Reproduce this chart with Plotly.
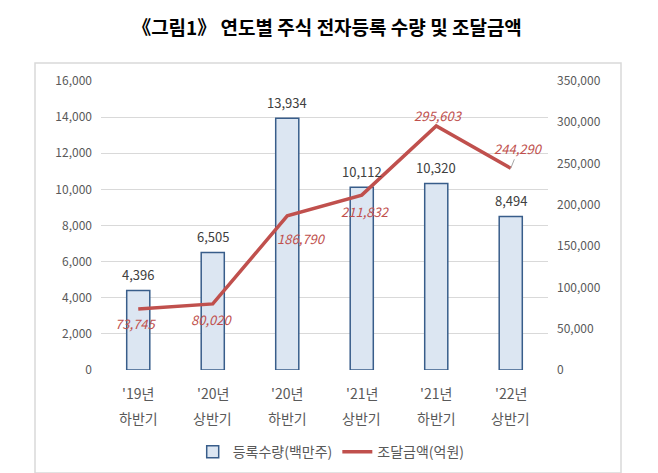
import plotly.graph_objects as go

years = ["'19년", "'20년", "'20년", "'21년", "'21년", "'22년"]
halves = ["하반기", "상반기", "하반기", "상반기", "하반기", "상반기"]
categories = [f"{y} {h}" for y, h in zip(years, halves)]
reg_qty = [4396, 6505, 13934, 10112, 10320, 8494]
fund_amt = [73745, 80020, 186790, 211832, 295603, 244290]
left_ticks = [0, 2000, 4000, 6000, 8000, 10000, 12000, 14000, 16000]
right_ticks = [0, 50000, 100000, 150000, 200000, 250000, 300000, 350000]

FONT = "Noto Sans CJK KR"
GRAY = "#595959"
RED = "#C0504D"

fig = go.Figure()
fig.add_trace(go.Bar(
    x=categories, y=reg_qty, name="등록수량(백만주)",
    marker=dict(color="#DCE6F2", line=dict(color="#385D8A", width=1.5)),
    hoverinfo="skip",
))
fig.add_trace(go.Scatter(
    x=categories, y=fund_amt, name="조달금액(억원)", yaxis="y2",
    mode="lines", line=dict(color=RED, width=3.5),
    hoverinfo="skip",
))

annotations = []
# bar value labels
for c, v in zip(categories, reg_qty):
    annotations.append(dict(x=c, y=v, xref="x", yref="y", text=f"{v:,}",
                            showarrow=False, yshift=16,
                            font=dict(family=FONT, size=13, color="#404040")))
# line value labels
shifts = [(-3, -14), (-1, -16), (14, -23), (4, -16), (2, 10), (8, 20)]
for i, (c, v) in enumerate(zip(categories, fund_amt)):
    dx, dy = shifts[i]
    a = dict(x=c, y=v, xref="x", yref="y2", text=f"<i>{v:,}</i>",
             showarrow=False, xshift=dx, yshift=dy,
             font=dict(family=FONT, size=13, color=RED))
    if i == 5:
        a.update(showarrow=True, arrowhead=0, arrowwidth=1, arrowcolor="#A6A6A6",
                 ax=dx, ay=-dy, xshift=0, yshift=0, standoff=0)
    annotations.append(a)
# two-row category labels
for c, y, h in zip(categories, years, halves):
    annotations.append(dict(x=c, y=-0.08, xref="x", yref="paper", text=y,
                            showarrow=False, yanchor="middle",
                            font=dict(family=FONT, size=14, color=GRAY)))
    annotations.append(dict(x=c, y=-0.166, xref="x", yref="paper", text=h,
                            showarrow=False, yanchor="middle",
                            font=dict(family=FONT, size=14, color=GRAY)))

fig.update_layout(
    width=658, height=473,
    margin=dict(l=93, r=118, t=73, b=111),
    paper_bgcolor="white", plot_bgcolor="white",
    bargap=0.69,
    title=dict(text="<b>《그림1》 연도별 주식 전자등록 수량 및 조달금액</b>",
               x=319 / 658, xanchor="center", y=1 - 20 / 473, yanchor="middle",
               font=dict(family=FONT, size=19, color="black")),
    xaxis=dict(showticklabels=False, showgrid=False, zeroline=False, showline=False,
               ticks=""),
    yaxis=dict(range=[0, 16000], tickvals=left_ticks, tickformat=",",
               showgrid=True, gridcolor="#D9D9D9", gridwidth=1, zeroline=False,
               showline=False, ticks="", ticklabelstandoff=8,
               tickfont=dict(family=FONT, size=12, color=GRAY)),
    yaxis2=dict(range=[0, 350000], tickvals=right_ticks, tickformat=",",
                overlaying="y", side="right", showgrid=False, zeroline=False,
                showline=False, ticks="", ticklabelstandoff=8,
                tickfont=dict(family=FONT, size=12, color=GRAY)),
    legend=dict(orientation="h", x=0.515, xanchor="center", y=-0.284, yanchor="middle",
                font=dict(family=FONT, size=14, color=GRAY), traceorder="normal",
                itemwidth=30),
    annotations=annotations,
    shapes=[dict(type="rect", xref="paper", yref="paper",
                 x0=(27 - 93) / 447, x1=(613 - 93) / 447,
                 y0=(362 - 465) / 289, y1=(362 - 55) / 289,
                 line=dict(color="#D9D9D9", width=1.5), layer="below")],
    showlegend=True,
)

fig.write_html("out.html")
